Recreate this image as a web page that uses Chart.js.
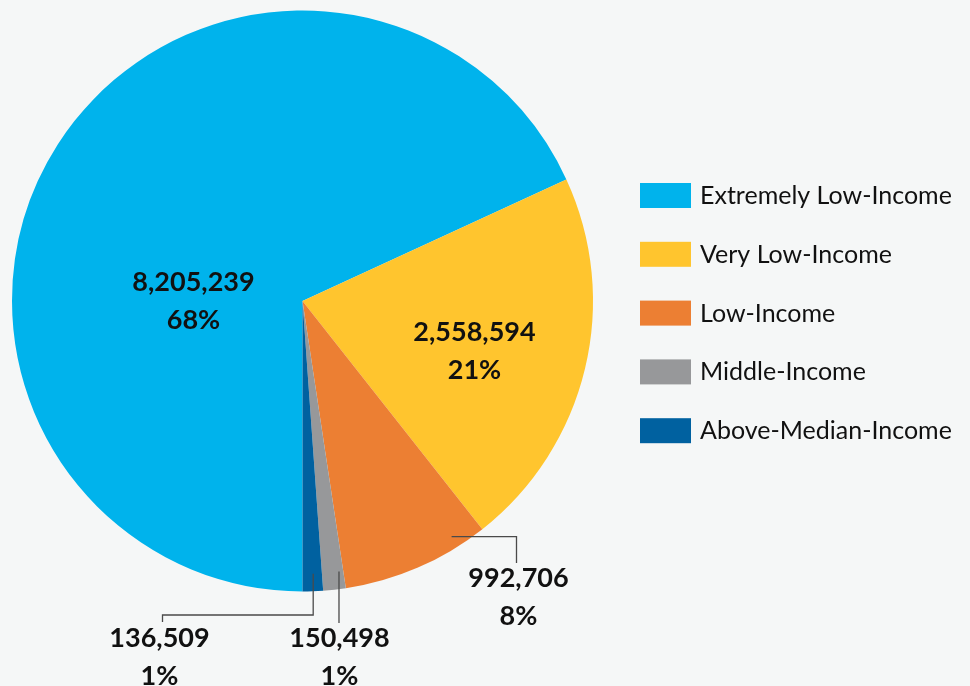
<!DOCTYPE html>
<html>
<head>
<meta charset="utf-8">
<title>Households by income group</title>
<script src="https://cdn.jsdelivr.net/npm/chart.js@4.4.1/dist/chart.umd.min.js"></script>
<style>
  html, body { margin: 0; padding: 0; background: #f5f7f7; }
  #wrap { width: 970px; height: 686px; position: relative; }
</style>
</head>
<body>
<div id="wrap"><canvas id="incomeChart"></canvas></div>
<script>
// income groups and household counts
const categories = ['Extremely Low-Income', 'Very Low-Income', 'Low-Income', 'Middle-Income', 'Above-Median-Income'];
const households = [8205239, 2558594, 992706, 150498, 136509];
const sliceColors = ['#00b3ec', '#ffc52e', '#ec7f33', '#97989a', '#0061a0'];

const total = households.reduce((a, b) => a + b, 0);

// where each value label sits, as offsets from the pie centre
// leader: start = point inside the slice (t along the angle span, rf of radius), then h/v moves
const labelSpots = [
    { dx: -109, dy: -19 },
    { dx: 172, dy: 31 },
    { dx: 216, dy: 277, leader: { t: 0.2, rf: 0.96, path: [['h', 214], ['v', 262]] } },
    { dx: 37, dy: 337, leader: { t: 0.2, rf: 0.94, path: [['v', 322]] } },
    { dx: -143, dy: 337, leader: { t: 0.45, rf: 0.94, path: [['v', 314], ['h', -140], ['v', 321]] } }
];

const fmt = n => n.toLocaleString('en-US');

const pieLabels = {
    id: 'pieLabels',
    afterDatasetsDraw(chart) {
        const ctx = chart.ctx;
        const arcs = chart.getDatasetMeta(0).data;
        ctx.save();
        arcs.forEach((arc, i) => {
            const p = arc.getProps(['x', 'y', 'startAngle', 'endAngle', 'outerRadius'], true);
            const spot = labelSpots[i];

            if (spot.leader) {
                const l = spot.leader;
                const a = p.startAngle + (p.endAngle - p.startAngle) * l.t;
                let x = p.x + Math.cos(a) * p.outerRadius * l.rf;
                let y = p.y + Math.sin(a) * p.outerRadius * l.rf;
                ctx.beginPath();
                ctx.moveTo(x, y);
                l.path.forEach(([dir, off]) => {
                    if (dir === 'h') x = p.x + off; else y = p.y + off;
                    ctx.lineTo(x, y);
                });
                ctx.strokeStyle = '#4a4a4a';
                ctx.lineWidth = 1.3;
                ctx.stroke();
            }

            const pct = Math.round(households[i] / total * 100) + '%';
            ctx.fillStyle = '#111';
            ctx.font = 'bold 27px Lato, sans-serif';
            ctx.textAlign = 'center';
            ctx.textBaseline = 'middle';
            ctx.fillText(fmt(households[i]), p.x + spot.dx, p.y + spot.dy);
            ctx.fillText(pct, p.x + spot.dx, p.y + spot.dy + 38);
        });
        ctx.restore();
    }
};

const sideLegend = {
    id: 'sideLegend',
    afterDraw(chart) {
        const ctx = chart.ctx;
        const left = 640, top = 183, step = 58.8;
        ctx.save();
        categories.forEach((name, i) => {
            const y = top + i * step;
            ctx.fillStyle = sliceColors[i];
            ctx.fillRect(left, y, 51, 25);
            ctx.fillStyle = '#111';
            ctx.font = '25px Lato, sans-serif';
            ctx.textAlign = 'left';
            ctx.textBaseline = 'middle';
            ctx.fillText(name, left + 60, y + 13);
        });
        ctx.restore();
    }
};

new Chart(document.getElementById('incomeChart'), {
    type: 'pie',
    data: {
        labels: categories,
        datasets: [{
            data: households,
            backgroundColor: sliceColors,
            borderWidth: 0
        }]
    },
    options: {
        responsive: true,
        maintainAspectRatio: false,
        animation: false,
        rotation: 180,
        layout: {
            padding: { left: 12, top: 10, right: 377, bottom: 94 }
        },
        plugins: {
            legend: { display: false },
            tooltip: { enabled: false }
        }
    },
    plugins: [pieLabels, sideLegend]
});
</script>
</body>
</html>
